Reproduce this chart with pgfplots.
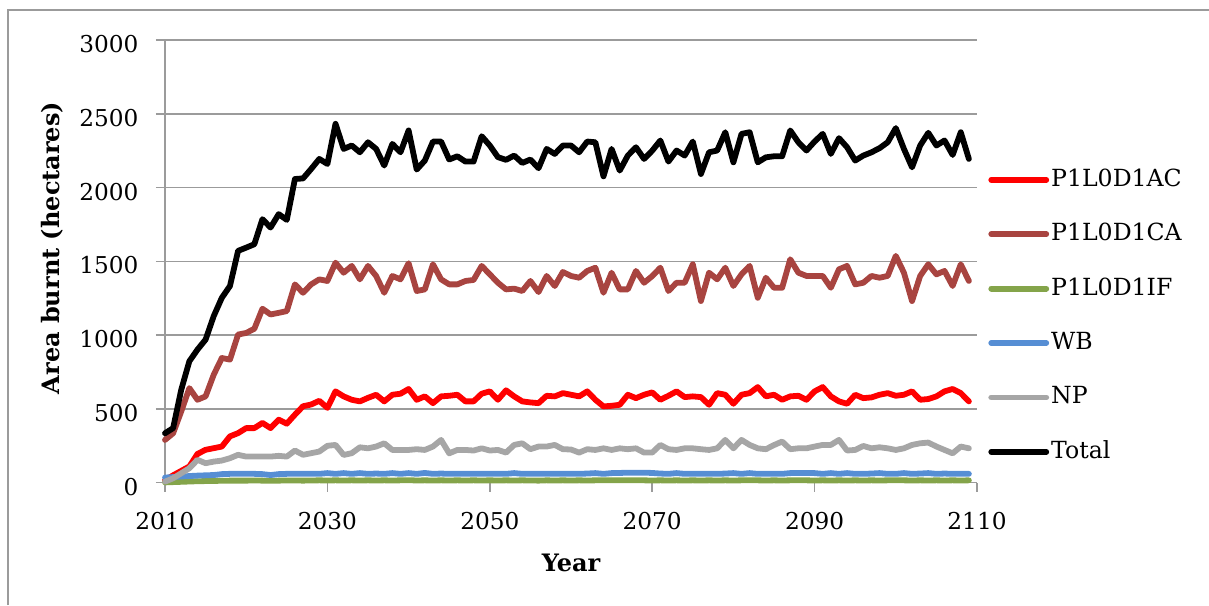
\documentclass[border=0pt]{standalone}
\usepackage{fontspec}
\setmainfont{DejaVu Serif}
\usepackage{pgfplots}
\pgfplotsset{compat=1.18}
\usepackage{pgfplotstable}

\definecolor{cAC}{RGB}{255,0,0}
\definecolor{cCA}{RGB}{168,68,64}
\definecolor{cIF}{RGB}{132,164,74}
\definecolor{cWB}{RGB}{86,142,212}
\definecolor{cNP}{RGB}{166,166,166}
\definecolor{gridgray}{RGB}{155,155,155}

% area burnt per year (hectares)
\pgfplotstableread{
year AC CA IF WB NP Total
2010 15 290 2 35 7 335
2011 50 335 4 38 30 370
2012 80 483 6 42 64 630
2013 110 641 8 45 98 823
2014 195 562 10 48 155 902
2015 223 585 11 50 132 970
2016 234 732 12 52 143 1129
2017 245 845 13 58 150 1253
2018 314 834 14 60 166 1333
2019 336 1004 14 60 189 1571
2020 370 1015 14 60 177 1593
2021 370 1043 15 60 177 1616
2022 405 1179 14 58 177 1786
2023 370 1140 13 52 177 1729
2024 427 1151 14 58 182 1820
2025 400 1163 15 60 177 1781
2026 461 1344 15 60 218 2058
2027 518 1287 14 60 189 2062
2028 530 1344 15 60 200 2126
2029 555 1378 16 60 211 2194
2030 507 1367 15 65 250 2160
2031 619 1491 16 60 256 2432
2032 585 1423 15 65 188 2262
2033 562 1469 16 60 200 2285
2034 551 1378 15 65 240 2239
2035 575 1469 16 60 233 2307
2036 596 1401 15 62 245 2262
2037 551 1287 16 60 267 2149
2038 596 1401 15 65 222 2296
2039 603 1378 16 60 222 2239
2040 635 1487 17 65 222 2387
2041 562 1299 15 60 227 2122
2042 585 1310 16 66 222 2183
2043 539 1480 15 60 245 2312
2044 585 1378 16 62 290 2312
2045 589 1344 15 60 199 2190
2046 596 1344 16 60 222 2212
2047 551 1367 15 60 222 2176
2048 551 1374 16 60 218 2176
2049 603 1469 15 60 233 2348
2050 619 1412 16 60 218 2285
2051 562 1355 15 60 222 2206
2052 626 1310 16 60 204 2188
2053 585 1315 15 65 256 2217
2054 551 1299 16 60 267 2167
2055 544 1367 15 60 227 2190
2056 539 1292 14 60 245 2131
2057 589 1401 16 60 245 2262
2058 585 1333 15 60 256 2228
2059 607 1428 16 60 227 2285
2060 596 1401 15 60 225 2285
2061 585 1389 16 60 204 2239
2062 619 1435 15 62 227 2312
2063 562 1457 16 65 222 2307
2064 517 1287 17 60 233 2076
2065 521 1423 16 65 222 2262
2066 528 1310 17 66 233 2115
2067 596 1310 16 68 227 2217
2068 573 1435 17 68 233 2273
2069 596 1355 16 68 204 2194
2070 612 1400 15 66 204 2250
2071 562 1457 16 62 256 2319
2072 589 1299 15 60 227 2176
2073 619 1355 16 65 222 2251
2074 580 1355 15 60 233 2217
2075 585 1480 16 60 233 2312
2076 580 1231 15 60 227 2092
2077 528 1423 16 60 222 2239
2078 607 1378 15 60 233 2251
2079 596 1457 16 62 290 2375
2080 535 1333 15 65 233 2171
2081 596 1412 16 60 290 2364
2082 607 1469 17 65 256 2375
2083 648 1253 16 60 233 2171
2084 585 1389 15 60 227 2205
2085 596 1321 16 60 255 2212
2086 562 1321 15 60 279 2212
2087 585 1514 16 65 227 2387
2088 589 1423 17 66 233 2307
2089 562 1401 16 66 233 2251
2090 619 1401 15 65 245 2312
2091 648 1401 16 60 256 2364
2092 585 1321 15 65 256 2228
2093 551 1446 16 60 290 2335
2094 535 1469 15 65 218 2273
2095 596 1344 16 60 222 2183
2096 573 1355 15 60 249 2217
2097 578 1401 16 62 233 2239
2098 596 1389 15 65 240 2267
2099 607 1401 16 60 233 2307
2100 589 1537 17 60 222 2403
2101 596 1423 16 65 233 2262
2102 619 1231 15 60 256 2137
2103 562 1401 16 62 267 2285
2104 567 1480 15 65 272 2371
2105 585 1412 16 60 245 2285
2106 619 1435 15 62 222 2319
2107 635 1333 16 60 199 2221
2108 607 1480 15 60 245 2375
2109 551 1367 16 60 233 2194
}\burnt

\begin{document}
\begin{tikzpicture}
\path[use as bounding box] (0,0) rectangle (604.5pt,302.5pt);
\draw[gridgray, line width=0.6pt] (4pt,0) -- (4pt,297.5pt) -- (604.5pt,297.5pt);
\begin{axis}[
  at={(82.5pt,61.15pt)}, anchor=south west,
  scale only axis, width=406pt, height=221.35pt,
  xmin=2010, xmax=2110, ymin=0, ymax=3000,
  xtick={2010,2030,...,2110}, ytick={0,500,...,3000},
  axis x line*=bottom, axis y line*=left,
  ymajorgrids,
  tick align=outside, major tick length=4.5pt,
  tick style={gridgray, line width=0.75pt},
  axis line style={gridgray, line width=0.75pt},
  grid style={gridgray, line width=0.75pt},
  scaled ticks=false,
  /pgf/number format/1000 sep={},
  /pgf/number format/assume math mode=true,
  tick label style={font=\fontsize{11.6}{13}\selectfont},
  xticklabel style={anchor=north, yshift=-7pt},
  yticklabel style={anchor=east, xshift=-5.3pt, yshift=-2pt},
  label style={font=\bfseries\fontsize{12}{14}\selectfont},
  xlabel={Year}, ylabel={Area burnt (hectares)},
  xlabel style={at={(axis description cs:0.5,-0.181)}, anchor=center},
  ylabel style={at={(axis description cs:-0.139,0.53)}, anchor=center},
  clip=false,
  every axis plot/.append style={line width=2.9pt, line join=round, line cap=round},
  legend cell align=left,
  legend image code/.code={\draw[#1] (0pt,0pt) -- (27.5pt,0pt);},
  legend style={at={(axis description cs:1.0135,0.377)}, anchor=west,
    draw=none, fill=none, inner sep=0pt, row sep=13.7pt,
    font=\fontsize{11.8}{14}\selectfont,
    nodes={inner sep=1pt, text height=9pt, text depth=2.5pt}},
]
\addplot[cAC] table[x=year, y=AC] {\burnt};
\addlegendentry{P1L0D1AC}
\addplot[cCA] table[x=year, y=CA] {\burnt};
\addlegendentry{P1L0D1CA}
\addplot[cIF] table[x=year, y=IF] {\burnt};
\addlegendentry{P1L0D1IF}
\addplot[cWB] table[x=year, y=WB] {\burnt};
\addlegendentry{WB}
\addplot[cNP] table[x=year, y=NP] {\burnt};
\addlegendentry{NP}
\addplot[black] table[x=year, y=Total] {\burnt};
\addlegendentry{Total}
\end{axis}
\end{tikzpicture}
\end{document}
